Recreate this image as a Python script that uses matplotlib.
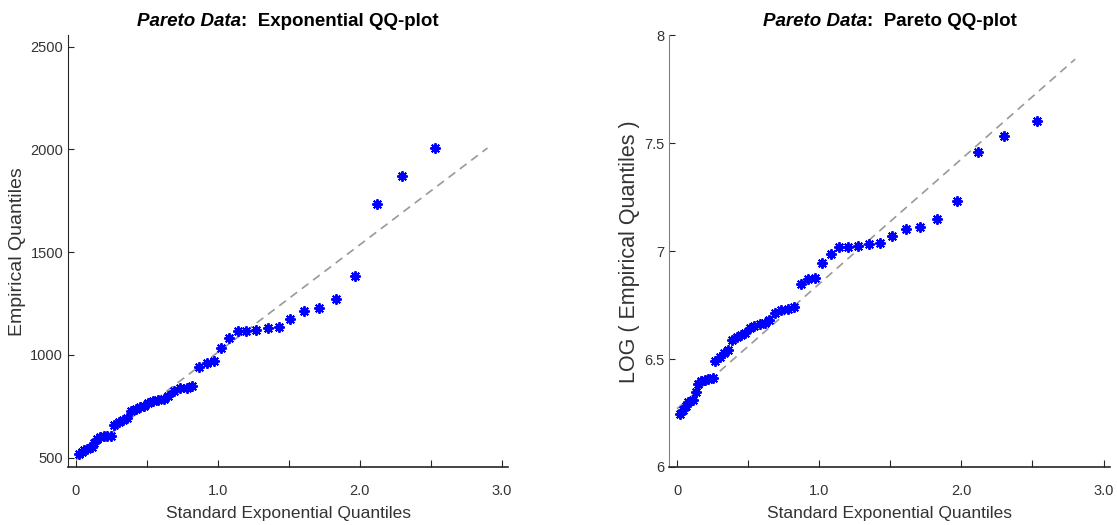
import numpy as np
import matplotlib
matplotlib.use('Agg')
import matplotlib.pyplot as plt
from matplotlib.offsetbox import TextArea, HPacker, AnchoredOffsetbox

plt.rcParams['font.family'] = ['Liberation Sans', 'DejaVu Sans']

# standard exponential quantiles (x) and sorted sample values (y)
exp_q = [0.02, 0.04, 0.06, 0.08, 0.11, 0.13, 0.15, 0.17, 0.20, 0.22,
         0.25, 0.27, 0.30, 0.33, 0.36, 0.39, 0.42, 0.45, 0.48, 0.51,
         0.54, 0.58, 0.62, 0.65, 0.69, 0.73, 0.78, 0.82, 0.87, 0.92,
         0.97, 1.02, 1.08, 1.14, 1.20, 1.27, 1.35, 1.43, 1.51, 1.61,
         1.71, 1.83, 1.97, 2.12, 2.30, 2.53]
emp_q = [516, 526, 536, 544, 551, 570, 593, 600, 604, 606,
         608, 660, 673, 684, 693, 728, 737, 745, 752, 768,
         777, 782, 787, 799, 824, 837, 840, 848, 940, 963,
         969, 1036, 1081, 1117, 1119, 1121, 1133, 1138, 1177, 1215,
         1227, 1272, 1383, 1737, 1869, 2008]

# fitted reference lines (endpoints)
exp_line_x = [0.0, 2.9]
exp_line_y = [490, 2007]
par_line_x = [0.0, 2.8]
par_line_y = [6.27, 7.89]

titles = ['Exponential QQ-plot', 'Pareto QQ-plot']
ylabels = ['Empirical Quantiles', 'LOG ( Empirical Quantiles )']

fig = plt.figure(figsize=(11.17, 5.25), dpi=100)
ax1 = fig.add_axes([0.0609, 0.1105, 0.3939, 0.822])
ax2 = fig.add_axes([0.599, 0.1105, 0.3947, 0.822])

txt_col = '#333333'
star = (8, 2, 0)

def style(ax, spine_col):
    for s in ['top', 'right']:
        ax.spines[s].set_visible(False)
    ax.spines['left'].set_color(spine_col)
    ax.spines['bottom'].set_color('#262626')
    ax.spines['bottom'].set_linewidth(1.2)
    ax.tick_params(direction='in', length=4, labelsize=10.5, colors='#262626',
                   labelcolor=txt_col)
    ax.tick_params(axis='x', length=5, pad=12)
    ax.set_xlim(-0.056, 3.045)
    ax.set_xticks([0, 0.5, 1.0, 1.5, 2.0, 2.5, 3.0])
    ax.set_xticklabels(['0', '', '1.0', '', '2.0', '', '3.0'])
    ax.set_xlabel('Standard Exponential Quantiles', fontsize=12.5, color=txt_col,
                  labelpad=6)

def add_title(ax, rest):
    a = TextArea('Pareto Data', textprops=dict(fontsize=13.5, fontweight='bold',
                                               fontstyle='italic', color='black'))
    b = TextArea(':  ' + rest, textprops=dict(fontsize=13.5, fontweight='bold',
                                              color='black'))
    box = HPacker(children=[a, b], align='baseline', pad=0, sep=0)
    anc = AnchoredOffsetbox(loc='lower center', child=box, pad=0, frameon=False,
                            bbox_to_anchor=(0.5, 1.012), bbox_transform=ax.transAxes,
                            borderpad=0)
    ax.add_artist(anc)

# left: exponential QQ-plot
ax1.plot(exp_line_x, exp_line_y, ls=(0, (5, 3.5)), color='#999999', lw=1.2, zorder=1)
ax1.plot(exp_q, emp_q, ls='none', marker=star, ms=7.5, mew=1.4, color='#0000ff', zorder=2)
ax1.set_ylim(455, 2555)
ax1.set_yticks([500, 1000, 1500, 2000, 2500])
style(ax1, '#262626')
ax1.set_ylabel(ylabels[0], fontsize=14, color=txt_col, labelpad=3)
add_title(ax1, titles[0])

# right: Pareto QQ-plot (log of the same sample)
ax2.plot(par_line_x, par_line_y, ls=(0, (5, 3.5)), color='#999999', lw=1.2, zorder=1)
ax2.plot(exp_q, np.log(emp_q), ls='none', marker=star, ms=7.5, mew=1.4, color='#0000ff',
         zorder=2)
ax2.set_ylim(6, 8)
ax2.set_yticks([6, 6.5, 7, 7.5, 8])
ax2.set_yticklabels(['6', '6.5', '7', '7.5', '8'])
style(ax2, '#808080')
ax2.set_ylabel(ylabels[1], fontsize=15.5, color=txt_col, labelpad=3)
add_title(ax2, titles[1])

fig.savefig('out.png', dpi=100)
